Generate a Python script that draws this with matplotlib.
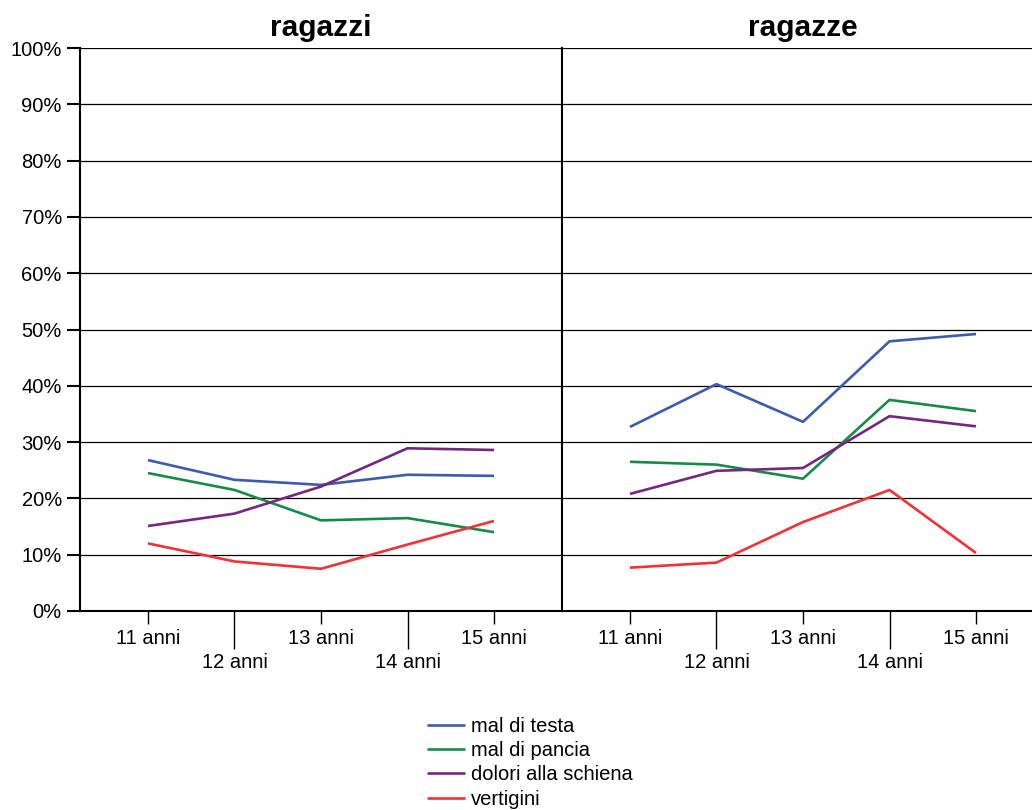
import matplotlib
matplotlib.use("Agg")
import matplotlib.pyplot as plt
import numpy as np

plt.rcParams['font.family'] = ['Liberation Sans', 'DejaVu Sans']

eta = ['11 anni', '12 anni', '13 anni', '14 anni', '15 anni']
serie = ['mal di testa', 'mal di pancia', 'dolori alla schiena', 'vertigini']
colori = ['#3f5bab', '#178a48', '#74277e', '#f03237']

# valori in %
ragazzi_testa = [26.8, 23.3, 22.4, 24.2, 24.0]
ragazzi_pancia = [24.5, 21.5, 16.1, 16.5, 14.0]
ragazzi_schiena = [15.1, 17.3, 22.1, 28.9, 28.6]
ragazzi_vertigini = [12.0, 8.8, 7.5, 11.8, 16.0]

ragazze_testa = [32.7, 40.3, 33.6, 47.9, 49.2]
ragazze_pancia = [26.5, 26.0, 23.5, 37.5, 35.5]
ragazze_schiena = [20.8, 24.9, 25.4, 34.6, 32.8]
ragazze_vertigini = [7.7, 8.6, 15.8, 21.5, 10.3]

pannelli = [
    ('ragazzi', [ragazzi_testa, ragazzi_pancia, ragazzi_schiena, ragazzi_vertigini]),
    ('ragazze', [ragazze_testa, ragazze_pancia, ragazze_schiena, ragazze_vertigini]),
]

fs = 14.5

fig = plt.figure(figsize=(10.32, 8.10), dpi=100)
posizioni = [[80/1032, 199/810, 482/1032, 563/810],
             [562/1032, 199/810, 482/1032, 563/810]]

x = np.arange(len(eta))
linee = []
for i, (titolo, valori) in enumerate(pannelli):
    ax = fig.add_axes(posizioni[i])
    for v, c, nome in zip(valori, colori, serie):
        l, = ax.plot(x, v, color=c, lw=1.9, label=nome, solid_capstyle='butt', zorder=3)
        if i == 0:
            linee.append(l)
    ax.set_xlim(-0.786, 4.786)
    ax.set_ylim(0, 100)
    ax.set_yticks(np.arange(0, 101, 10))
    for yy in np.arange(10, 101, 10):
        ax.axhline(yy, color='black', lw=0.9, zorder=1)
    ax.set_title(titolo, fontsize=21.5, fontweight='bold', pad=9)

    # etichette alternate: 11,13,15 in alto, 12,14 in basso
    ax.set_xticks(x[::2], [eta[k] for k in range(0, 5, 2)])
    ax.set_xticks(x[1::2], [eta[k] for k in range(1, 5, 2)], minor=True)
    ax.tick_params(axis='x', which='major', length=9.6, width=1, pad=3.5, labelsize=fs)
    ax.tick_params(axis='x', which='minor', length=27, width=1, pad=3.0, labelsize=fs)

    for s in ['top', 'right']:
        ax.spines[s].set_visible(False)
    ax.spines['left'].set_linewidth(1.5)
    ax.spines['bottom'].set_linewidth(1.5)

    if i == 0:
        ax.yaxis.set_major_formatter(matplotlib.ticker.FuncFormatter(lambda v, p: '%d%%' % v))
        ax.tick_params(axis='y', length=9.6, width=1.5, pad=3.5, labelsize=fs)
    else:
        ax.tick_params(axis='y', left=False, labelleft=False)

fig.legend(handles=linee, loc='upper left', bbox_to_anchor=(427/1032, 1 - 717/810),
           frameon=False, fontsize=fs, handlelength=1.9, handletextpad=0.3,
           labelspacing=0.26, borderaxespad=0, borderpad=0)

fig.savefig('out.png', dpi=100)
